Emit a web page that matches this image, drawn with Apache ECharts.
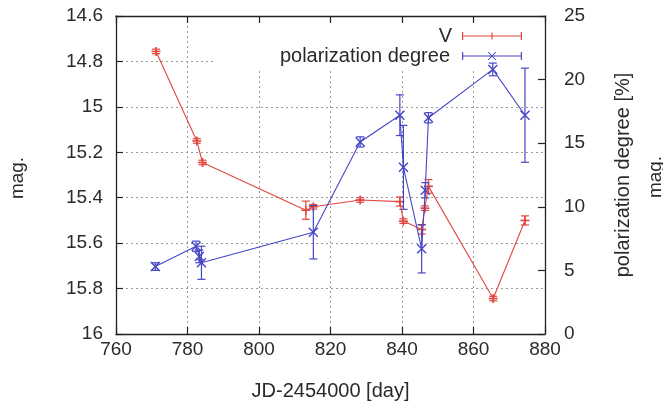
<!DOCTYPE html>
<html><head><meta charset="utf-8">
<script src="https://cdn.jsdelivr.net/npm/echarts@6/dist/echarts.min.js"></script>
<style>html,body{margin:0;padding:0;background:#fff}#c{width:663px;height:406px}</style>
</head><body><div id="c"></div>
<script>
// V magnitude
const vDay = [771.2, 782.6, 784.2, 813.1, 815.2, 828.3, 839.4, 840.4, 845.5, 846.4, 847.4, 865.5, 874.4];
const vMag = [14.756, 15.15, 15.245, 15.455, 15.44, 15.41, 15.417, 15.503, 15.54, 15.446, 15.35, 15.844, 15.50];
const vErr = [0.01, 0.01, 0.01, 0.04, 0.01, 0.01, 0.02, 0.01, 0.02, 0.01, 0.03, 0.01, 0.02];
// polarization degree [%]
const polDay = [771.0, 782.4, 783.3, 783.9, 815.2, 828.3, 839.4, 840.4, 845.5, 846.5, 847.4, 865.4, 874.4];
const polVal = [5.3, 6.9, 6.1, 5.6, 8.0, 15.1, 17.2, 13.1, 6.7, 11.3, 17.0, 20.8, 17.2];
const polErr = [0.3, 0.4, 0.5, 1.3, 2.1, 0.4, 1.6, 3.3, 1.9, 0.6, 0.4, 0.5, 3.7];
// axis ticks
const xTicks = {min: 760, max: 880, interval: 20};
const magTicks = {min: 14.6, max: 16, interval: 0.2};
const polTicks = {min: 0, max: 25, interval: 5};

const RED = '#e2463f', BLUE = '#4646c8';
const FONT = 'Liberation Sans';
const TXT = '#2a2a2a';

function errRender(kind, color) {
  return function (params, api) {
    const x = api.value(0), y = api.value(1), e = api.value(2);
    const p = api.coord([x, y]);
    const a = api.coord([x, y - e]);
    const b = api.coord([x, y + e]);
    const st = {stroke: color, lineWidth: 1.2, fill: null};
    const c = 4, m = 4.5;
    const ch = [
      {type: 'line', shape: {x1: p[0], y1: a[1], x2: p[0], y2: b[1]}, style: st},
      {type: 'line', shape: {x1: p[0] - c, y1: a[1], x2: p[0] + c, y2: a[1]}, style: st},
      {type: 'line', shape: {x1: p[0] - c, y1: b[1], x2: p[0] + c, y2: b[1]}, style: st}
    ];
    if (kind === 'plus') {
      ch.push({type: 'line', shape: {x1: p[0] - m, y1: p[1], x2: p[0] + m, y2: p[1]}, style: {stroke: color, lineWidth: 1.6}});
      ch.push({type: 'line', shape: {x1: p[0], y1: p[1] - m, x2: p[0], y2: p[1] + m}, style: {stroke: color, lineWidth: 1.6}});
    } else {
      ch.push({type: 'line', shape: {x1: p[0] - m, y1: p[1] - m, x2: p[0] + m, y2: p[1] + m}, style: {stroke: color, lineWidth: 1.4}});
      ch.push({type: 'line', shape: {x1: p[0] - m, y1: p[1] + m, x2: p[0] + m, y2: p[1] - m}, style: {stroke: color, lineWidth: 1.4}});
    }
    return {type: 'group', children: ch};
  };
}

const iconV = 'path://M0,0H1.2V8H0Z M58.8,0H60V8H58.8Z M0,3.4H60V4.6H0Z M29.4,0.5H30.6V7.5H29.4Z';
const iconP = 'path://M0,0H1.2V8H0Z M58.8,0H60V8H58.8Z M0,3.4H60V4.6H0Z M25.6,0L26.8,0L34.4,8L33.2,8Z M33.2,0L34.4,0L26.8,8L25.6,8Z';

const gridLine = {show: true, lineStyle: {color: '#9a9a9a', type: [2, 3], width: 1}};
const axLine = {show: true, lineStyle: {color: '#222', width: 1.3}};
const tick = {show: true, inside: true, length: 7, lineStyle: {color: '#222', width: 1.2}};
const lbl = {color: TXT, fontFamily: FONT, fontSize: 19};

const chart = echarts.init(document.getElementById('c'), null, {renderer: 'canvas'});
chart.setOption({
  animation: false,
  backgroundColor: '#fff',
  grid: {left: 116, right: 118, top: 16, bottom: 66, containLabel: false},
  xAxis: [
    {type: 'value', position: 'bottom', min: xTicks.min, max: xTicks.max, interval: xTicks.interval,
     axisLine: axLine, axisTick: tick, splitLine: gridLine,
     axisLabel: Object.assign({margin: 6, showMinLabel: true, showMaxLabel: true}, lbl),
     name: 'JD-2454000 [day]', nameLocation: 'middle', nameGap: 47,
     nameTextStyle: {color: TXT, fontFamily: FONT, fontSize: 20}},
    {type: 'value', position: 'top', min: xTicks.min, max: xTicks.max, interval: xTicks.interval,
     axisLine: axLine, axisTick: tick, splitLine: {show: false}, axisLabel: {show: false}}
  ],
  yAxis: [
    {type: 'value', position: 'left', inverse: true, min: magTicks.min, max: magTicks.max, interval: magTicks.interval,
     axisLine: axLine, axisTick: tick, splitLine: gridLine,
     axisLabel: Object.assign({margin: 13, showMinLabel: true, showMaxLabel: true}, lbl)},
    {type: 'value', position: 'right', min: polTicks.min, max: polTicks.max, interval: polTicks.interval,
     axisLine: axLine, axisTick: tick, splitLine: {show: false},
     axisLabel: Object.assign({margin: 19, showMinLabel: true, showMaxLabel: true}, lbl),
     name: 'polarization degree [%]', nameLocation: 'middle', nameRotate: 90, nameGap: 68,
     nameTextStyle: {color: TXT, fontFamily: FONT, fontSize: 20}}
  ],
  legend: [
    {data: [{name: 'V', icon: iconV, itemStyle: {color: RED}}], align: 'right', orient: 'vertical',
     right: 141, top: 26, padding: 0, itemWidth: 60, itemHeight: 8,
     textStyle: {color: TXT, fontFamily: FONT, fontSize: 20, padding: [0, 5, 0, 0]}},
    {data: [{name: 'polarization degree', icon: iconP, itemStyle: {color: BLUE}}], align: 'right', orient: 'vertical',
     right: 141, top: 46, padding: 0, itemWidth: 60, itemHeight: 8,
     textStyle: {color: TXT, fontFamily: FONT, fontSize: 20, padding: [0, 7, 0, 0]}}
  ],
  graphic: [
    {type: 'rect', shape: {x: 213, y: 24, width: 331, height: 44}, style: {fill: '#fff'}, z: 1, silent: true},
    {type: 'text', x: 18, y: 178, rotation: Math.PI / 2, style: {text: 'mag.', fill: TXT, font: '19px "Liberation Sans"', textAlign: 'center', textVerticalAlign: 'middle'}},
    {type: 'text', x: 656, y: 177, rotation: Math.PI / 2, style: {text: 'mag.', fill: TXT, font: '19px "Liberation Sans"', textAlign: 'center', textVerticalAlign: 'middle'}}
  ],
  series: [
    {name: 'V', type: 'line', xAxisIndex: 0, yAxisIndex: 0, symbol: 'none', z: 3,
     lineStyle: {color: RED, width: 1.1}, itemStyle: {color: RED},
     data: vDay.map((d, i) => [d, vMag[i]])},
    {name: 'V', type: 'custom', xAxisIndex: 0, yAxisIndex: 0, z: 3, renderItem: errRender('plus', RED),
     encode: {x: 0, y: 1}, data: vDay.map((d, i) => [d, vMag[i], vErr[i]])},
    {name: 'polarization degree', type: 'line', xAxisIndex: 0, yAxisIndex: 1, symbol: 'none', z: 3,
     lineStyle: {color: BLUE, width: 1.1}, itemStyle: {color: BLUE},
     data: polDay.map((d, i) => [d, polVal[i]])},
    {name: 'polarization degree', type: 'custom', xAxisIndex: 0, yAxisIndex: 1, z: 3, renderItem: errRender('x', BLUE),
     encode: {x: 0, y: 1}, data: polDay.map((d, i) => [d, polVal[i], polErr[i]])}
  ]
});
</script></body></html>
